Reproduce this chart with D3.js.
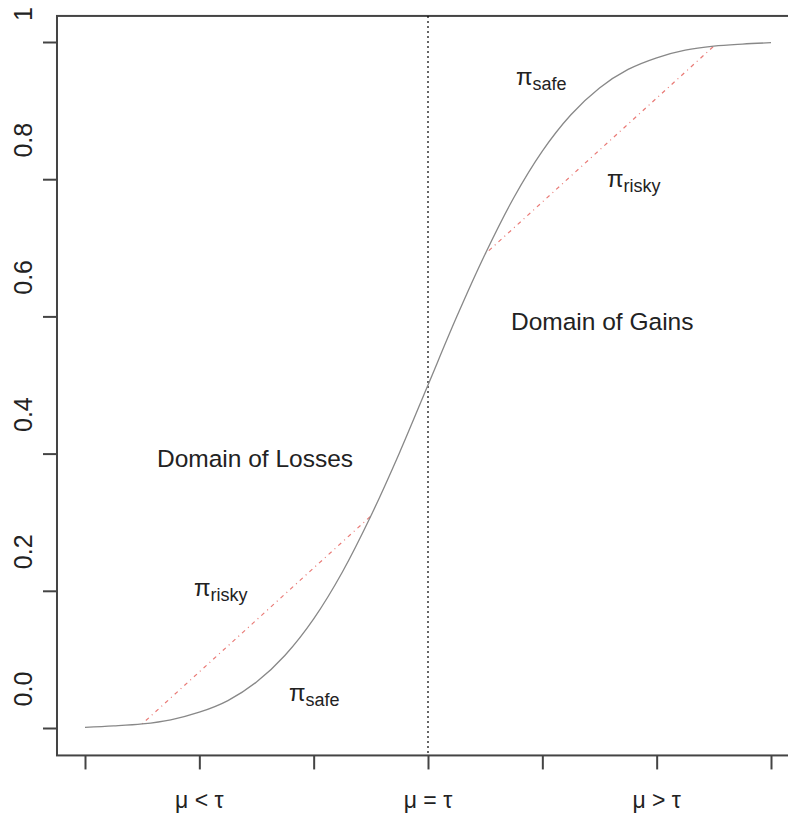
<!DOCTYPE html>
<html>
<head>
<meta charset="utf-8">
<script src="https://cdn.jsdelivr.net/npm/d3@7"></script>
<style>
  body { margin: 0; background: #fff; }
  text { font-family: "Liberation Sans", Arial, sans-serif; fill: #222; }
</style>
</head>
<body>
<div id="main"></div>
<script>
// values
var curveX = [-3, -2.75, -2.5, -2.25, -2, -1.75, -1.5, -1.25, -1, -0.75, -0.5, -0.25, 0,
              0.25, 0.5, 0.75, 1, 1.25, 1.5, 1.75, 2, 2.25, 2.5, 2.75, 3];
var curveY = [0.001, 0.003, 0.006, 0.012, 0.023, 0.040, 0.067, 0.106, 0.159, 0.227, 0.309, 0.401, 0.5,
              0.599, 0.691, 0.773, 0.841, 0.894, 0.933, 0.960, 0.977, 0.988, 0.994, 0.997, 0.999];
var lossChord = [[-2.5, 0.006], [-0.5, 0.309]];
var gainChord = [[0.5, 0.691], [2.5, 0.994]];

var xTicks = [-3, -2, -1, 0, 1, 2, 3];
var xLabelPos = [-2, 0, 2];
var xLabelText = ["μ < τ", "μ = τ", "μ > τ"];
var yTicks = [0, 0.2, 0.4, 0.6, 0.8, 1];
var yTickLabels = ["0.0", "0.2", "0.4", "0.6", "0.8", "1"];

var width = 788, height = 817;

var x = d3.scaleLinear().domain([-3, 3]).range([85, 771]);
var y = d3.scaleLinear().domain([0, 1]).range([728, 42]);

var svg = d3.select("#main").append("svg")
  .attr("width", width)
  .attr("height", height);

// box
svg.append("rect")
  .attr("x", x(-3.245))
  .attr("y", y(1.038))
  .attr("width", x(3.245) - x(-3.245))
  .attr("height", y(-0.04) - y(1.038))
  .attr("fill", "none")
  .attr("stroke", "#444")
  .attr("stroke-width", 2);

// x axis ticks
var xAxis = svg.append("g")
  .attr("transform", "translate(0," + y(-0.04) + ")")
  .call(d3.axisBottom(x).tickValues(xTicks).tickSize(14).tickSizeOuter(0).tickFormat(""));
xAxis.select(".domain").remove();
xAxis.selectAll("line").attr("stroke", "#444").attr("stroke-width", 2);

svg.selectAll(".xlab")
  .data(xLabelPos)
  .enter().append("text")
  .attr("class", "xlab")
  .attr("x", function (d) { return x(d); })
  .attr("y", 808)
  .attr("text-anchor", "middle")
  .style("font-size", "23px")
  .text(function (d, i) { return xLabelText[i]; });

// y axis ticks
var yAxis = svg.append("g")
  .attr("transform", "translate(" + x(-3.245) + ",0)")
  .call(d3.axisLeft(y).tickValues(yTicks).tickSize(14).tickSizeOuter(0).tickFormat(""));
yAxis.select(".domain").remove();
yAxis.selectAll("line").attr("stroke", "#444").attr("stroke-width", 2);

// labels sit well above their ticks in the original; the top one is squeezed against the edge
svg.selectAll(".ylab")
  .data(yTicks)
  .enter().append("text")
  .attr("class", "ylab")
  .attr("transform", function (d) {
    var ty = d === 1 ? 14 : y(d) - 39;
    return "translate(32," + ty + ") rotate(-90)";
  })
  .attr("text-anchor", "middle")
  .style("font-size", "25px")
  .text(function (d, i) { return yTickLabels[i]; });

// reference line at mu = tau
svg.append("line")
  .attr("x1", x(0)).attr("x2", x(0))
  .attr("y1", y(1.038)).attr("y2", y(-0.04))
  .attr("stroke", "#000")
  .attr("stroke-width", 1.2)
  .attr("stroke-dasharray", "2,3");

var line = d3.line()
  .x(function (d) { return x(d[0]); })
  .y(function (d) { return y(d[1]); });

// chords (risky)
[lossChord, gainChord].forEach(function (c) {
  svg.append("path")
    .attr("d", line(c))
    .attr("fill", "none")
    .attr("stroke", "#e0403a")
    .attr("stroke-width", 1.2)
    .attr("stroke-opacity", 0.7)
    .attr("stroke-dasharray", "1,4,4,4");
});

// s-curve (safe)
svg.append("path")
  .datum(curveX.map(function (d, i) { return [d, curveY[i]]; }))
  .attr("d", line.curve(d3.curveMonotoneX))
  .attr("fill", "none")
  .attr("stroke", "#888")
  .attr("stroke-width", 1.3);

// annotations
var notes = [
  { t: "Domain of Losses", x: 157, y: 467 },
  { t: "Domain of Gains", x: 511, y: 330 }
];
svg.selectAll(".note")
  .data(notes)
  .enter().append("text")
  .attr("class", "note")
  .attr("x", function (d) { return d.x; })
  .attr("y", function (d) { return d.y; })
  .style("font-size", "24.5px")
  .text(function (d) { return d.t; });

var pis = [
  { sub: "safe", x: 516, y: 85 },
  { sub: "risky", x: 607, y: 187 },
  { sub: "risky", x: 194, y: 596 },
  { sub: "safe", x: 289, y: 701 }
];
var pg = svg.selectAll(".pi")
  .data(pis)
  .enter().append("text")
  .attr("class", "pi")
  .attr("x", function (d) { return d.x; })
  .attr("y", function (d) { return d.y; })
  .style("font-size", "24px");
pg.append("tspan").text("π");
pg.append("tspan")
  .attr("dy", 5)
  .style("font-size", "18px")
  .text(function (d) { return d.sub; });
</script>
</body>
</html>
